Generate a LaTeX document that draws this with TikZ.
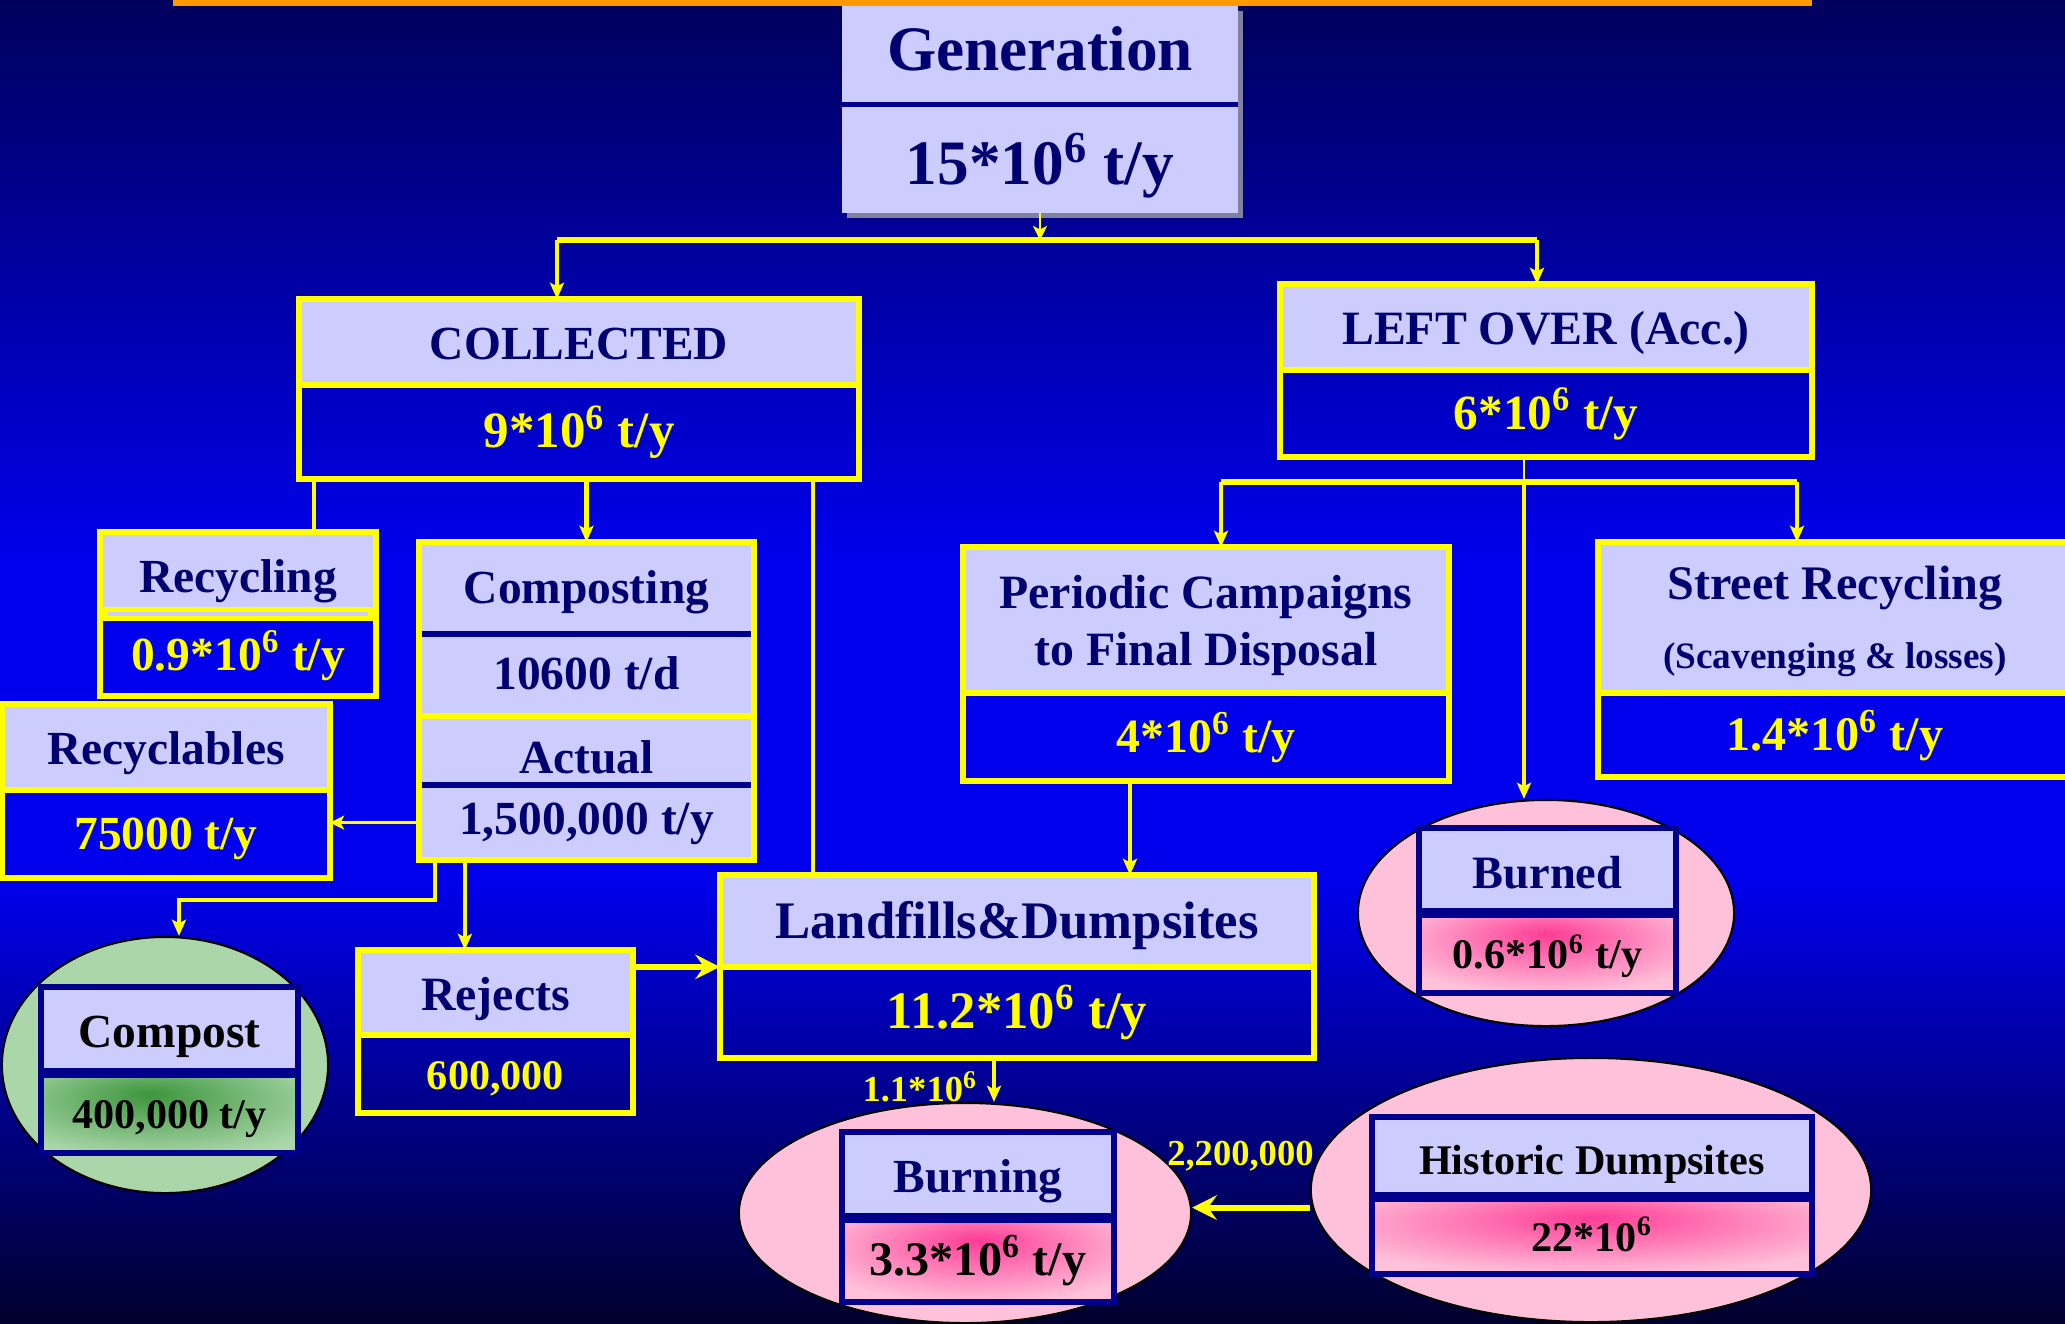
\documentclass[tikz,border=0pt]{standalone}
\usepackage{fontspec}
\setmainfont{Liberation Serif}
\usetikzlibrary{shapes,arrows.meta,calc,positioning,backgrounds,shadows}

\definecolor{lav}{RGB}{204,204,255}
\definecolor{navyt}{RGB}{0,0,112}
\definecolor{navyb}{RGB}{0,0,140}
\definecolor{yel}{RGB}{255,255,0}
\definecolor{bgtop}{RGB}{0,0,92}
\definecolor{bgmid}{RGB}{0,0,236}
\definecolor{bgbot}{RGB}{0,0,45}
\definecolor{pinkl}{RGB}{255,192,218}
\definecolor{pinkh}{RGB}{255,60,150}
\definecolor{greenl}{RGB}{170,214,170}
\definecolor{greenh}{RGB}{60,150,60}
\definecolor{barorange}{RGB}{255,153,0}
\definecolor{gshadow}{RGB}{128,128,160}

\pgfdeclareradialshading{hotspot}{\pgfpoint{0bp}{12bp}}{color(0bp)=(pinkh); color(32bp)=(pinkl); color(70bp)=(pinkl)}
\pgfdeclareradialshading{greenspot}{\pgfpoint{-4bp}{12bp}}{color(0bp)=(greenh); color(34bp)=(greenl); color(70bp)=(greenl)}

\newcommand{\sz}[1]{\fontsize{#1pt}{#1pt}\selectfont\bfseries}
\newcommand{\tensix}{10\textsuperscript{6}}

\tikzset{
  box/.style={rectangle, draw=yel, line width=1.6pt, outer sep=0pt, inner sep=0pt},
  hmid/.style={text height=1.15em, text depth=0.14em},
  vmid/.style={text height=1.02em, text depth=0.14em},
  head/.style={box, hmid, fill=lav, text=navyt},
  head2/.style={box, fill=lav, text=navyt},
  val/.style={box, vmid, text=yel},
  genpart/.style={rectangle, fill=lav, text=navyt, outer sep=0pt, inner sep=0pt,
    font=\sz{18}, minimum width=3.96cm,
    drop shadow={shadow xshift=1.4pt, shadow yshift=-1.4pt, fill=gshadow, opacity=1}},
  inhead/.style={rectangle, draw=navyb, line width=1.6pt, outer sep=0pt, inner sep=0pt, hmid, fill=lav},
  inval/.style={rectangle, draw=navyb, line width=1.6pt, outer sep=0pt, inner sep=0pt, vmid, text=black, shade},
  blob/.style={ellipse, draw=black, line width=0.6pt, inner sep=0pt},
  link/.style={draw=yel, line width=1.3pt},
  thinline/.style={draw=yel, line width=0.7pt},
  bar/.style={draw=yel, line width=1.5pt},
  flow/.style={link, -{Stealth[length=4.6pt, width=4pt, inset=1pt]}},
  thinflow/.style={thinline, -{Stealth[length=4pt, width=4pt, inset=1pt]}},
  bigflow/.style={draw=yel, line width=1.7pt, -{Stealth[length=7pt, width=7pt, inset=2.5pt]}},
  lbl/.style={text=yel, font=\sz{10.4}, inner sep=0pt}
}

\begin{document}
\begin{tikzpicture}[x=0.01cm, y=-0.01cm]
  \useasboundingbox (0,0) rectangle (2065,1323);
  % slide background
  \shade[top color=bgtop, bottom color=bgmid] (0,0) rectangle (2065,560);
  \fill[bgmid] (0,559) rectangle (2065,881);
  \shade[top color=bgmid, bottom color=bgbot] (0,880) rectangle (2065,1323);
  \fill[barorange] (173,0) rectangle (1812,6);

  % generation
  \node[genpart, minimum height=0.98cm, text height=1.0em, text depth=0.14em] (gen) at (1040,55) {Generation};
  \node[genpart, minimum height=1.09cm, text height=1.64em, text depth=0.14em, below=0pt of gen] (genv) {15*\tensix{} t/y};
  \draw[navyb, line width=1.4pt] (gen.south west) -- (gen.south east);

  % collected and left over
  \node[head, minimum width=5.6cm, minimum height=0.86cm, font=\sz{13.5}] (col) at (579,342) {COLLECTED};
  \node[val, minimum width=5.6cm, minimum height=0.94cm, font=\sz{14.5}, below=0pt of col] (colv) {9*\tensix{} t/y};
  \node[head, minimum width=5.32cm, minimum height=0.86cm, font=\sz{13.6}] (left) at (1546,327) {LEFT OVER (Acc.)};
  \node[val, minimum width=5.32cm, minimum height=0.87cm, font=\sz{14}, below=0pt of left] (leftv) {6*\tensix{} t/y};

  % recycling
  \node[head, minimum width=2.76cm, minimum height=0.82cm, font=\sz{13.5}, text height=1.25em] (recy) at (238,573) {Recycling};
  \node[val, minimum width=2.76cm, minimum height=0.82cm, font=\sz{13.5}, below=0pt of recy] (recyv) {0.9*\tensix{} t/y};
  \draw[yel, line width=4pt] ([xshift=0.8pt]recy.south west) -- ([xshift=-0.8pt]recy.south east);
  \draw[lav, line width=1.1pt] ([xshift=2.4pt]recy.south west) -- ([xshift=-2.4pt]recy.south east);

  % composting
  \node[head, minimum width=3.35cm, minimum height=0.92cm, font=\sz{13.5}, text height=1.0em] (cmp) at (586.5,588) {Composting};
  \node[head, minimum width=3.35cm, minimum height=0.82cm, font=\sz{13.5}, text height=0.95em, below=0pt of cmp] (cmpd) {10600 t/d};
  \node[head, minimum width=3.35cm, minimum height=0.69cm, font=\sz{13.5}, text height=1.42em, below=0pt of cmpd] (cmpa) {Actual};
  \node[head, minimum width=3.35cm, minimum height=0.75cm, font=\sz{13.5}, text height=0.8em, below=0pt of cmpa] (cmpy) {1,500,000 t/y};
  \draw[navyb, line width=1.5pt] ([xshift=0.8pt]cmp.south west) -- ([xshift=-0.8pt]cmp.south east);
  \draw[navyb, line width=1.5pt] ([xshift=0.8pt]cmpa.south west) -- ([xshift=-0.8pt]cmpa.south east);

  % recyclables
  \node[head, minimum width=3.28cm, minimum height=0.86cm, font=\sz{13.5}] (rcb) at (166,747) {Recyclables};
  \node[val, minimum width=3.28cm, minimum height=0.88cm, font=\sz{13.5}, below=0pt of rcb] (rcbv) {75000 t/y};

  % rejects
  \node[head, minimum width=2.75cm, minimum height=0.85cm, font=\sz{13.6}] (rej) at (495.5,992.5) {Rejects};
  \node[val, minimum width=2.75cm, minimum height=0.78cm, font=\sz{12}, below=0pt of rej] (rejv) {600,000};

  % landfills
  \node[head, minimum width=5.94cm, minimum height=0.92cm, font=\sz{15}] (land) at (1017,921) {Landfills\&Dumpsites};
  \node[val, minimum width=5.94cm, minimum height=0.91cm, font=\sz{15}, below=0pt of land] (landv) {11.2*\tensix{} t/y};

  % periodic campaigns and street recycling
  \node[head2, minimum width=4.86cm, minimum height=1.46cm, align=center, font=\sz{13.6}, text depth=-1.7pt] (per) at (1206,620) {Periodic Campaigns\\[2.6pt]to Final Disposal};
  \node[val, minimum width=4.86cm, minimum height=0.88cm, font=\sz{13.6}, below=0pt of per] (perv) {4*\tensix{} t/y};
  \node[head2, minimum width=4.74cm, minimum height=1.51cm, align=center, font=\sz{13.7}, text depth=-2.9pt] (str) at (1835,617.5) {Street Recycling\\[6pt]{\sz{10.6}(Scavenging \& losses)}};
  \node[val, minimum width=4.74cm, minimum height=0.84cm, font=\sz{13.7}, below=0pt of str] (strv) {1.4*\tensix{} t/y};

  % compost
  \node[blob, fill=greenl, minimum width=3.26cm, minimum height=2.56cm] (cpst) at (165,1065) {};
  \node[inhead, minimum width=2.57cm, minimum height=0.86cm, text=black, font=\sz{13.5}] (cpsh) at (169.5,1030) {Compost};
  \node[inval, shading=greenspot, minimum width=2.57cm, minimum height=0.8cm, font=\sz{12}, below=0pt of cpsh] (cpsv) {400,000 t/y};
  \draw[navyb, line width=2.6pt] (cpsh.south west) -- (cpsh.south east);

  % burned
  \node[blob, fill=pinkl, minimum width=3.76cm, minimum height=2.26cm] (brd) at (1546,913) {};
  \node[inhead, minimum width=2.57cm, minimum height=0.85cm, text=navyt, font=\sz{13.2}] (brdh) at (1547.5,870.5) {Burned};
  \node[inval, shading=hotspot, minimum width=2.57cm, minimum height=0.8cm, font=\sz{12}, below=0pt of brdh] (brdv) {0.6*\tensix{} t/y};
  \draw[navyb, line width=2.6pt] (brdh.south west) -- (brdh.south east);

  % burning
  \node[blob, fill=pinkl, minimum width=4.52cm, minimum height=2.2cm] (brn) at (965,1213) {};
  \node[inhead, minimum width=2.72cm, minimum height=0.86cm, text=navyt, font=\sz{13.5}] (brnh) at (978,1175) {Burning};
  \node[inval, shading=hotspot, minimum width=2.72cm, minimum height=0.84cm, font=\sz{13.7}, below=0pt of brnh] (brnv) {3.3*\tensix{} t/y};
  \draw[navyb, line width=2.6pt] (brnh.south west) -- (brnh.south east);

  % historic dumpsites
  \node[blob, fill=pinkl, minimum width=5.6cm, minimum height=2.64cm] (hist) at (1591,1190) {};
  \node[inhead, minimum width=4.4cm, minimum height=0.8cm, text=black, font=\sz{12}] (hsth) at (1592,1157) {Historic Dumpsites};
  \node[inval, shading=hotspot, minimum width=4.4cm, minimum height=0.77cm, font=\sz{12}, below=0pt of hsth] (hstv) {22*\tensix};
  \draw[navyb, line width=2.6pt] (hsth.south west) -- (hsth.south east);

  % connectors from generation
  \coordinate (forkL) at (557,240);
  \coordinate (forkR) at (1537,240);
  \draw[thinflow] (genv.south) -- (genv.south |- forkL);
  \draw[bar] (forkL) -- (forkR);
  \draw[flow] (forkL) -- (forkL |- col.north);
  \draw[flow] (forkR) -- (forkR |- left.north);

  % connectors from collected
  \coordinate (dropA) at ($(colv.south west)+(15,0)$);
  \coordinate (dropB) at ($(colv.south east)+(-46,0)$);
  \draw[link] (dropA) -- (dropA |- recy.north);
  \draw[flow] (colv.south -| cmp.north) -- (cmp.north);
  \draw[link] (dropB) -- (dropB |- land.north);

  % connectors from composting
  \coordinate (tapC) at ($(cmpy.south west)+(16,0)$);
  \coordinate (tapD) at ($(cmpy.south west)+(46,0)$);
  \coordinate (bendC) at (179,900);
  \draw[thinflow] (cmpy.west) -- (cmpy.west -| rcbv.east);
  \draw[flow] (tapC) |- (bendC) -- (bendC |- cpst.north);
  \draw[flow] (tapD) -- (tapD |- rej.north);
  \draw[bigflow] ([yshift=7.3pt]rej.east) -- ([yshift=7.3pt]rej.east -| land.west);

  % connectors from left over
  \coordinate (forkM) at (1524,482);
  \coordinate (forkA) at (1221,482);
  \coordinate (forkB) at (1797,482);
  \draw[thinline] (leftv.south -| forkM) -- (forkM);
  \draw[bar] (forkA) -- (forkB);
  \draw[flow] (forkA) -- (forkA |- per.north);
  \draw[flow] (forkB) -- (forkB |- str.north);
  \draw[flow] (forkM) -- (forkM |- brd.north);

  % to final disposal and burning
  \coordinate (dropP) at (1130,0);
  \coordinate (dropL) at (994,0);
  \draw[flow] (perv.south -| dropP) -- (dropP |- land.north);
  \draw[flow] (landv.south -| dropL) -- (dropL |- brn.north) node[midway, left=4pt, yshift=-2pt, lbl] {1.1*\tensix};
  \draw[bigflow] ([yshift=-5pt]hist.west) -- ([yshift=-5pt]hist.west -| brn.east) node[midway, above=9.5pt, xshift=-3pt, lbl] {2,200,000};
\end{tikzpicture}
\end{document}
